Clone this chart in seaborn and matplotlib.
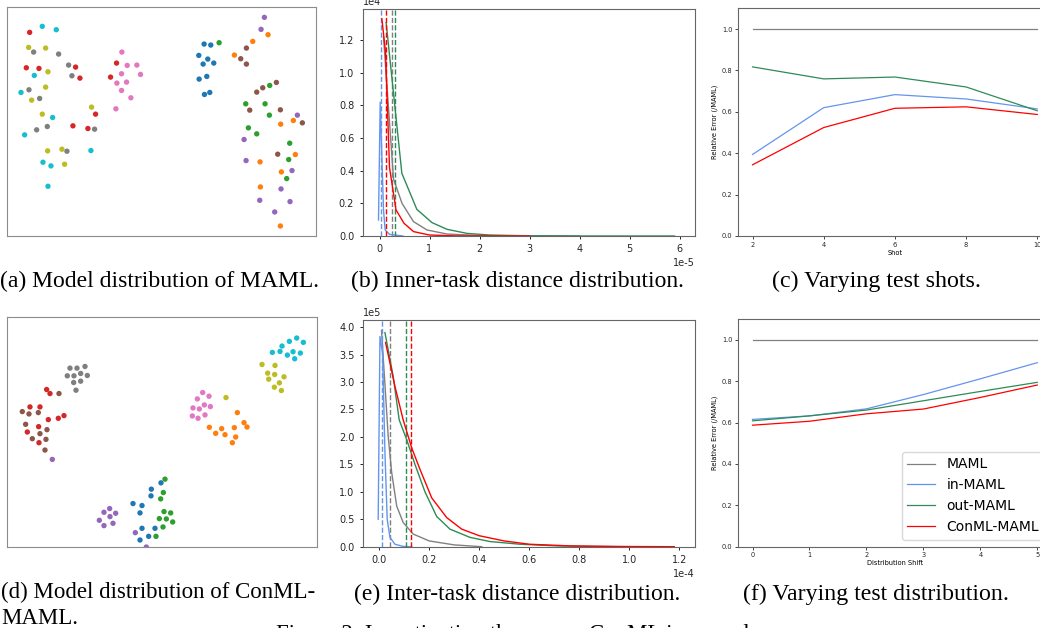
import numpy as np
import pandas as pd
import matplotlib
matplotlib.use("Agg")
import matplotlib.pyplot as plt
import seaborn as sns

# ---- data ----
# t-SNE model embeddings, one list per task (tab10 order), picture units
maml_points = [
    [(612, 133), (632, 136), (596, 167), (623, 178), (609, 193), (641, 190), (597, 238), (620, 230), (613, 284), (629, 278)],
    [(804, 105), (758, 125), (703, 166), (842, 373), (880, 362), (886, 464), (780, 486), (844, 516), (781, 561), (841, 678)],
    [(657, 129), (809, 257), (737, 312), (795, 312), (808, 346), (745, 384), (770, 402), (869, 430), (866, 479), (860, 536)],
    [(88, 98), (78, 204), (116, 206), (226, 202), (239, 235), (349, 190), (331, 232), (286, 343), (218, 378), (263, 386)],
    [(793, 53), (783, 89), (892, 346), (732, 419), (738, 482), (876, 512), (843, 567), (779, 601), (870, 605), (824, 636)],
    [(739, 145), (722, 177), (739, 193), (770, 277), (788, 264), (829, 248), (749, 331), (841, 330), (907, 369), (833, 463)],
    [(365, 157), (381, 197), (410, 196), (364, 222), (421, 224), (350, 250), (379, 247), (364, 272), (392, 294), (347, 327)],
    [(100, 157), (175, 163), (205, 196), (215, 228), (86, 270), (118, 296), (141, 380), (109, 390), (283, 388), (200, 454)],
    [(85, 143), (136, 145), (143, 216), (136, 262), (94, 301), (274, 322), (126, 343), (142, 453), (185, 448), (193, 493)],
    [(126, 80), (168, 90), (102, 227), (62, 278), (157, 353), (73, 405), (272, 452), (128, 487), (152, 498), (143, 559)],
]
conml_points = [
    [(481, 517), (452, 536), (451, 556), (397, 579), (424, 585), (418, 607), (424, 653), (463, 653), (418, 688), (444, 677)],
    [(710, 307), (730, 337), (739, 350), (626, 351), (663, 355), (701, 352), (645, 369), (673, 373), (705, 380), (695, 397)],
    [(493, 506), (488, 546), (480, 565), (490, 603), (510, 607), (476, 624), (497, 625), (516, 634), (487, 649), (466, 677)],
    [(138, 238), (148, 250), (88, 290), (118, 290), (143, 328), (173, 324), (190, 316), (114, 349), (80, 365), (115, 397)],
    [(155, 447), (310, 605), (327, 594), (345, 608), (296, 629), (328, 618), (337, 638), (310, 645), (404, 666), (437, 709)],
    [(175, 250), (65, 304), (85, 311), (113, 307), (75, 342), (139, 358), (118, 370), (95, 385), (136, 387), (133, 419)],
    [(606, 247), (590, 266), (625, 258), (577, 293), (596, 296), (611, 284), (629, 289), (575, 317), (592, 324), (613, 314)],
    [(208, 174), (229, 174), (253, 169), (200, 197), (220, 197), (240, 190), (260, 196), (219, 217), (240, 213), (226, 240)],
    [(676, 262), (784, 163), (823, 166), (801, 189), (822, 193), (850, 200), (804, 207), (836, 218), (821, 231), (842, 241)],
    [(888, 84), (866, 94), (908, 97), (844, 108), (815, 127), (838, 124), (860, 135), (877, 125), (899, 129), (882, 146)],
]

methods = ["MAML", "in-MAML", "out-MAML", "ConML-MAML"]
method_colors = ["gray", "cornflowerblue", "seagreen", "red"]

# (b) inner-task distance distribution: x in 1e-5, density in 1e4
inner_x = [
    [0.08, 0.28, 0.45, 0.68, 0.95, 1.35, 2.0, 3.0, 4.0],
    [-0.02, 0.014, 0.08, 0.113, 0.2, 0.47],
    [0.133, 0.447, 0.747, 1.05, 1.35, 1.75, 2.2, 3.0, 4.0, 5.0, 5.9],
    [0.047, 0.12, 0.2, 0.33, 0.49, 0.68, 1.0, 1.5, 2.2, 3.0],
]
inner_y = [
    [1.22, 0.35, 0.2, 0.088, 0.037, 0.012, 0.003, 0.0005, 0.0],
    [0.098, 0.82, 0.16, 0.037, 0.01, 0.0],
    [1.306, 0.384, 0.163, 0.082, 0.041, 0.016, 0.006, 0.001, 0.0, 0.0, 0.0],
    [1.33, 1.13, 0.42, 0.16, 0.078, 0.027, 0.006, 0.001, 0.0, 0.0],
]
inner_mean = [0.247, 0.034, 0.313, 0.127]

# (e) inter-task distance distribution: x in 1e-4, density in 1e5
inter_x = [
    [0.0093, 0.036, 0.05, 0.07, 0.096, 0.136, 0.2, 0.3, 0.41],
    [-0.004, 0.003, 0.0135, 0.023, 0.032, 0.043, 0.063, 0.096, 0.13],
    [0.023, 0.056, 0.08, 0.11, 0.143, 0.183, 0.23, 0.283, 0.363, 0.443, 0.563, 0.71, 0.85, 1.0],
    [0.0255, 0.063, 0.096, 0.13, 0.163, 0.21, 0.27, 0.33, 0.40, 0.50, 0.60, 0.76, 0.95, 1.18],
]
inter_y = [
    [3.94, 2.01, 1.35, 0.74, 0.44, 0.23, 0.105, 0.033, 0.0],
    [0.5, 3.83, 3.52, 1.71, 0.5, 0.17, 0.045, 0.005, 0.0],
    [3.9, 3.1, 2.31, 1.95, 1.5, 1.0, 0.55, 0.32, 0.17, 0.094, 0.045, 0.015, 0.005, 0.0],
    [3.72, 2.92, 2.31, 1.80, 1.41, 0.89, 0.53, 0.32, 0.20, 0.105, 0.045, 0.015, 0.004, 0.0],
]
inter_mean = [0.043, 0.012, 0.107, 0.128]

# (c) varying test shots
shots = [2, 4, 6, 8, 10]
shot_err = [
    [1.0, 1.0, 1.0, 1.0, 1.0],
    [0.394, 0.62, 0.683, 0.662, 0.614],
    [0.817, 0.759, 0.768, 0.72, 0.605],
    [0.344, 0.524, 0.617, 0.624, 0.587],
]

# (f) varying test distribution
shifts = [0, 1, 2, 3, 4, 5]
shift_err = [
    [1.0, 1.0, 1.0, 1.0, 1.0, 1.0],
    [0.615, 0.632, 0.666, 0.735, 0.811, 0.889],
    [0.608, 0.632, 0.66, 0.705, 0.75, 0.794],
    [0.587, 0.606, 0.642, 0.665, 0.721, 0.781],
]

# ---- figure ----
plt.style.use('default')
plt.rcParams['axes.unicode_minus'] = False
W, H = 1040, 628
fig = plt.figure(figsize=(W / 100, H / 100), dpi=100)
fig.patch.set_facecolor('white')


def px_axes(left, top, right, bottom):
    return fig.add_axes([left / W, 1 - bottom / H, (right - left) / W, (bottom - top) / H])


def tsne_panel(ax, points):
    rows = [(x, y, k) for k, pts in enumerate(points) for (x, y) in pts]
    df = pd.DataFrame(rows, columns=["x", "y", "task"])
    sns.scatterplot(data=df, x="x", y="y", hue="task", palette="tab10", s=15,
                    linewidth=0, legend=False, ax=ax)
    ax.set_xlim(20, 948)
    ax.set_ylim(708, 22)
    ax.set_xticks([])
    ax.set_yticks([])
    ax.set_xlabel("")
    ax.set_ylabel("")
    for sp in ax.spines.values():
        sp.set_color('0.55')
        sp.set_linewidth(0.8)


def dist_panel(ax, xs, ys, means, xscale, yscale, xlim, ylim, xticks, yticks):
    for xv, yv, mv, c in zip(xs, ys, means, method_colors):
        sns.lineplot(x=np.array(xv) * xscale, y=np.array(yv) * yscale, color=c,
                     lw=1.0, estimator=None, sort=False, ax=ax)
        ax.axvline(mv * xscale, color=c, ls='--', lw=1.0)
    ax.set_xlim(xlim[0] * xscale, xlim[1] * xscale)
    ax.set_ylim(ylim[0] * yscale, ylim[1] * yscale)
    ax.set_xticks(np.array(xticks) * xscale)
    ax.set_yticks(np.array(yticks) * yscale)
    ax.ticklabel_format(style='sci', axis='both', scilimits=(0, 0))
    ax.tick_params(labelsize=7, length=2.5, width=0.7, colors='0.15')
    ax.xaxis.get_offset_text().set_fontsize(7)
    ax.yaxis.get_offset_text().set_fontsize(7)
    for sp in ax.spines.values():
        sp.set_color('0.4')
        sp.set_linewidth(0.8)


def error_panel(ax, xs, errs, xlabel, legend):
    rows = [(x, e, m) for m, ev in zip(methods, errs) for x, e in zip(xs, ev)]
    df = pd.DataFrame(rows, columns=["x", "err", "method"])
    sns.lineplot(data=df, x="x", y="err", hue="method", hue_order=methods,
                 palette=method_colors, lw=0.9, legend=legend, ax=ax)
    ax.set_xticks(xs)
    ax.set_xlim(xs[0] - 0.05 * (xs[-1] - xs[0]), xs[-1] + 0.05 * (xs[-1] - xs[0]))
    ax.set_ylim(0, 1.1)
    ax.set_yticks([0, 0.2, 0.4, 0.6, 0.8, 1.0])
    ax.set_xlabel(xlabel, fontsize=4.8, labelpad=1.5)
    ax.set_ylabel("Relative Error (/MAML)", fontsize=4.8, labelpad=3)
    ax.tick_params(labelsize=4.8, length=2, width=0.6, pad=2, colors='0.15')
    for sp in ax.spines.values():
        sp.set_color('0.4')
        sp.set_linewidth(0.8)
    if legend:
        leg = ax.legend(loc='lower right', fontsize=10, handlelength=2.0,
                        framealpha=1, edgecolor='0.85')
        leg.set_title(None)


ax_a = px_axes(7, 7, 316, 236)
tsne_panel(ax_a, maml_points)

ax_b = px_axes(362.5, 9, 695, 236)
dist_panel(ax_b, inner_x, inner_y, inner_mean, 1e-5, 1e4,
           (-0.34, 6.31), (0, 1.39), [0, 1, 2, 3, 4, 5, 6], [0, 0.2, 0.4, 0.6, 0.8, 1.0, 1.2])

ax_c = px_axes(738.3, 8.3, 1051.5, 236)
error_panel(ax_c, shots, shot_err, "Shot", False)

ax_d = px_axes(7.3, 317.3, 316.7, 546.7)
tsne_panel(ax_d, conml_points)

ax_e = px_axes(362.7, 320, 695, 546.7)
dist_panel(ax_e, inter_x, inter_y, inter_mean, 1e-4, 1e5,
           (-0.066, 1.263), (0, 4.13), [0, 0.2, 0.4, 0.6, 0.8, 1.0, 1.2],
           [0, 0.5, 1.0, 1.5, 2.0, 2.5, 3.0, 3.5, 4.0])

ax_f = px_axes(738.3, 319, 1051.5, 546.7)
error_panel(ax_f, shifts, shift_err, "Distribution Shift", True)

# ---- captions ----
cap = dict(family='Liberation Serif', va='baseline', color='black')
fig.text(160 / W, 1 - 287 / H, "(a) Model distribution of MAML.", ha='center', fontsize=17, **cap)
fig.text(517 / W, 1 - 287 / H, "(b) Inner-task distance distribution.", ha='center', fontsize=17, **cap)
fig.text(877 / W, 1 - 287 / H, "(c) Varying test shots.", ha='center', fontsize=17.3, **cap)
fig.text(1 / W, 1 - 598 / H, "(d) Model distribution of ConML-", ha='left', fontsize=16.5, **cap)
fig.text(1 / W, 1 - 624 / H, "MAML.", ha='left', fontsize=16.5, **cap)
fig.text(517 / W, 1 - 600 / H, "(e) Inter-task distance distribution.", ha='center', fontsize=17, **cap)
fig.text(876 / W, 1 - 600 / H, "(f) Varying test distribution.", ha='center', fontsize=17.2, **cap)
fig.text(276 / W, 1 - 640 / H, "Figure 2: Investigating the reason ConML is a good", ha='left',
         fontsize=16.5, **cap)

fig.savefig("out.png", dpi=100, facecolor='white')
plt.close(fig)
